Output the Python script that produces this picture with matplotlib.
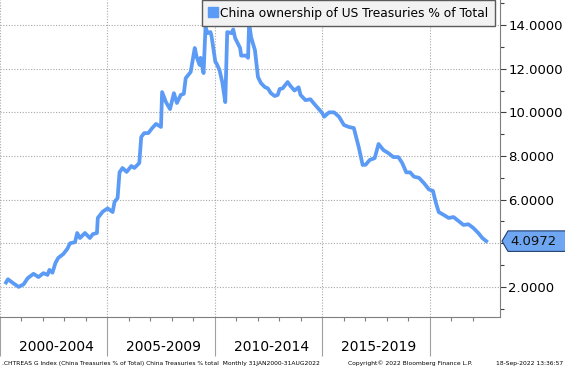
import numpy as np
import matplotlib
matplotlib.use('Agg')
import matplotlib.pyplot as plt
import matplotlib.transforms as mtransforms
from matplotlib.patches import Polygon
from matplotlib.lines import Line2D

line_blue = '#5b9bf5'
grid_grey = '#a8a8a8'
axis_grey = '#7f7f7f'

# (decimal year, % of total)
years = [2000.28, 2000.37, 2000.64, 2000.87, 2001.10, 2001.29, 2001.56, 2001.79,
         2002.02, 2002.21, 2002.30, 2002.44, 2002.58, 2002.71, 2002.94, 2003.13,
         2003.26, 2003.49, 2003.59, 2003.72, 2003.95, 2004.18, 2004.32, 2004.51,
         2004.55, 2004.78, 2005.01, 2005.24, 2005.33, 2005.47, 2005.56, 2005.70,
         2005.89, 2006.11, 2006.25, 2006.48, 2006.57, 2006.71, 2006.90, 2007.08,
         2007.26, 2007.49, 2007.54, 2007.72, 2007.91, 2008.09, 2008.23, 2008.41,
         2008.55, 2008.64, 2008.87, 2009.06, 2009.15, 2009.29, 2009.33, 2009.47,
         2009.56, 2009.66, 2009.79, 2009.84, 2010.02, 2010.07, 2010.21, 2010.34,
         2010.48, 2010.57, 2010.76, 2010.85, 2010.94, 2011.17, 2011.22, 2011.45,
         2011.54, 2011.59, 2011.68, 2011.86, 2012.00, 2012.14, 2012.32, 2012.46,
         2012.60, 2012.78, 2012.92, 2013.01, 2013.15, 2013.38, 2013.52, 2013.70,
         2013.89, 2013.98, 2014.21, 2014.44, 2014.67, 2014.99, 2015.08, 2015.31,
         2015.54, 2015.77, 2016.00, 2016.23, 2016.46, 2016.69, 2016.87, 2017.01,
         2017.20, 2017.43, 2017.61, 2017.84, 2018.07, 2018.30, 2018.53, 2018.71,
         2018.90, 2019.08, 2019.26, 2019.49, 2019.72, 2019.95, 2020.14, 2020.28,
         2020.41, 2020.64, 2020.87, 2021.10, 2021.33, 2021.56, 2021.79, 2022.02,
         2022.25, 2022.44, 2022.62]
share = [2.20, 2.35, 2.15, 2.00, 2.12, 2.40, 2.60, 2.45,
         2.63, 2.55, 2.78, 2.65, 3.10, 3.33, 3.50, 3.74,
         4.00, 4.05, 4.47, 4.24, 4.47, 4.24, 4.42, 4.47,
         5.16, 5.45, 5.60, 5.43, 5.90, 6.07, 7.25, 7.45,
         7.27, 7.54, 7.45, 7.68, 8.87, 9.05, 9.05, 9.28,
         9.47, 9.33, 10.93, 10.47, 10.15, 10.88, 10.43, 10.80,
         10.85, 11.57, 11.85, 12.95, 12.53, 12.17, 12.50, 11.80,
         13.90, 13.63, 13.68, 13.50, 12.30, 12.25, 11.94, 11.39,
         10.47, 13.68, 13.63, 13.80, 13.40, 12.95, 12.60, 12.60,
         12.50, 14.10, 13.45, 12.85, 11.62, 11.34, 11.16, 11.10,
         10.88, 10.75, 10.80, 11.07, 11.10, 11.39, 11.20, 11.00,
         11.15, 10.80, 10.56, 10.60, 10.33, 9.97, 9.80, 10.00,
         10.00, 9.80, 9.42, 9.33, 9.28, 8.40, 7.59, 7.60,
         7.82, 7.90, 8.55, 8.27, 8.13, 7.95, 7.95, 7.68,
         7.25, 7.25, 7.05, 7.00, 6.76, 6.47, 6.40, 5.85,
         5.43, 5.30, 5.16, 5.20, 5.02, 4.84, 4.87, 4.70,
         4.47, 4.24, 4.0972]
last_value = 4.0972

period_labels = ['2000-2004', '2005-2009', '2010-2014', '2015-2019']
period_mid = [2002.5, 2007.5, 2012.5, 2017.5]
period_edges = [2000, 2005, 2010, 2015, 2020]
y_major = [2, 4, 6, 8, 10, 12, 14]
y_minor = [1, 3, 5, 7, 9, 11, 13, 15]

legend_text = 'China ownership of US Treasuries % of Total'
foot_left = '.CHTREAS G Index (China Treasuries % of Total) China Treasuries % total  Monthly 31JAN2000-31AUG2022'
foot_mid = 'Copyright\u00a9 2022 Bloomberg Finance L.P.'
foot_right = '18-Sep-2022 13:36:57'

fig = plt.figure(figsize=(5.65, 3.68), dpi=100, facecolor='white')
ax = fig.add_axes([0.0, 1 - 317 / 368, 500 / 565, 317 / 368])

ax.plot(years, share, color=line_blue, lw=2.7, solid_joinstyle='round', zorder=3)

ax.set_xlim(2000.25, 2023.26)
ax.set_ylim(0.62, 15.15)

for s in ['left', 'top']:
    ax.spines[s].set_visible(False)
ax.spines['right'].set_color(axis_grey)
ax.spines['bottom'].set_color(axis_grey)

# the 4.0000 label sits under the last-value tag, so leave it blank
ax.yaxis.tick_right()
ax.set_yticks(y_major)
ax.set_yticklabels(['' if abs(v - last_value) < 1 else '%.4f' % v for v in y_major])
ax.set_yticks(y_minor, minor=True)
ax.tick_params(axis='y', which='major', length=4, width=0.8, color='#404040',
               labelsize=9.5, pad=2)
ax.tick_params(axis='y', which='minor', length=3, width=0.8, color='#404040')

ax.set_xticks(period_edges)
ax.set_xticklabels([])
ax.set_xticks(np.arange(2001, 2023), minor=True)
ax.tick_params(axis='x', which='major', length=28, width=0.8, color='#a0a0a0')
ax.tick_params(axis='x', which='minor', length=3, width=0.8, color=axis_grey)

ax.grid(True, which='major', color=grid_grey, linestyle=(0, (1, 1.5)), lw=0.8)
ax.set_axisbelow(True)

trans = mtransforms.blended_transform_factory(ax.transData, ax.transAxes)
for lab, xm in zip(period_labels, period_mid):
    ax.text(xm + 0.12, -0.095, lab, transform=trans, ha='center', va='center',
            fontsize=10, color='black')

# legend box
handle = Line2D([], [], marker='s', linestyle='none', color=line_blue, markersize=7)
leg = ax.legend([handle], [legend_text], loc='upper right', bbox_to_anchor=(0.99, 1.0),
                frameon=True, fancybox=False, fontsize=8.8, handlelength=0.6,
                handletextpad=0.3, borderpad=0.55, borderaxespad=0.0, shadow=False)
leg.get_frame().set_facecolor('#f2f2f2')
leg.get_frame().set_edgecolor('#5a5a5a')
leg.get_frame().set_linewidth(1.0)
leg.get_frame().set_alpha(1)

# last value tag
ytr = mtransforms.blended_transform_factory(ax.transAxes, ax.transData)
h = 0.47
tag = Polygon([(1.004, last_value), (1.016, last_value + h), (1.14, last_value + h),
               (1.14, last_value - h), (1.016, last_value - h)], closed=True,
              transform=ytr, clip_on=False, facecolor='#6fa6f2', edgecolor='#1f3f6f',
              lw=0.8, zorder=5)
ax.add_patch(tag)
ax.text(1.02, last_value, '%.4f' % last_value, transform=ytr, ha='left', va='center',
        fontsize=9.5, color='#101010', zorder=6, clip_on=False)

fig.text(2 / 565, 1 - 363 / 368, foot_left, fontsize=4.3, ha='left', va='center')
fig.text(348 / 565, 1 - 363 / 368, foot_mid, fontsize=4.3, ha='left', va='center')
fig.text(563 / 565, 1 - 363 / 368, foot_right, fontsize=4.3, ha='right', va='center')

fig.savefig('out.png', dpi=100, facecolor='white')
